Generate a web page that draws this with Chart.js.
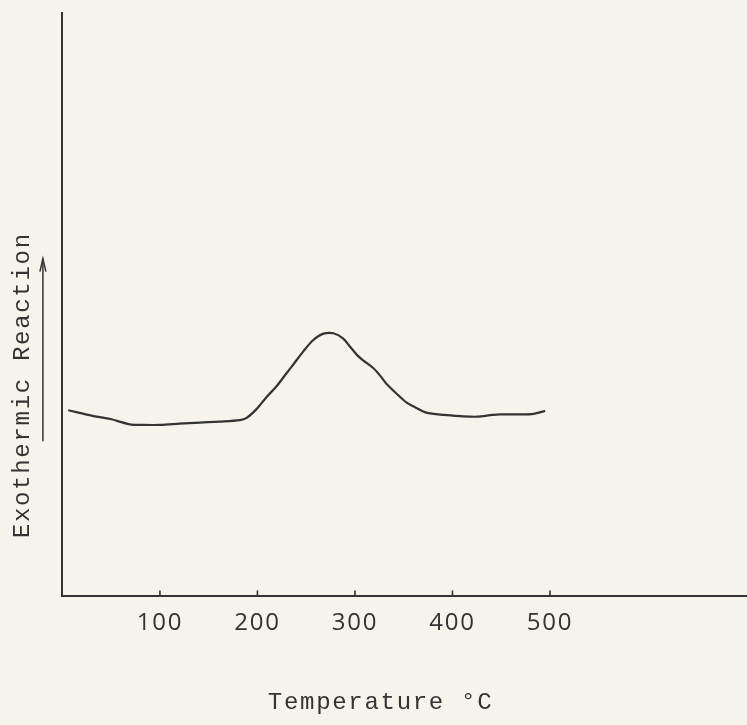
<!DOCTYPE html>
<html>
<head>
<meta charset="utf-8">
<script src="https://cdn.jsdelivr.net/npm/chart.js@4.4.1/dist/chart.umd.min.js"></script>
<style>
  html, body { margin: 0; padding: 0; background: #f5f3ec; }
  #wrap { width: 747px; height: 725px; position: relative; }
</style>
</head>
<body>
<div id="wrap"><canvas id="c"></canvas></div>
<script>
// Temperature (°C) along the DTA trace
const temperatures = [6, 32, 49, 69, 83, 100, 120, 141, 161, 182, 189, 199, 209, 220, 230, 237, 247, 257, 267, 278, 288, 295, 302, 308, 319, 326, 332, 343, 353, 363, 373, 391, 408, 425, 441, 449, 469, 483, 495];
// Relative signal (exothermic upward), arbitrary units
const signal = [31.9, 30.9, 30.4, 29.5, 29.4, 29.4, 29.6, 29.8, 29.95, 30.2, 30.6, 32.1, 34.1, 36.1, 38.3, 39.8, 42.0, 43.9, 45.0, 45.1, 44.2, 42.8, 41.4, 40.5, 39.1, 37.8, 36.5, 34.7, 33.2, 32.3, 31.5, 31.1, 30.9, 30.8, 31.1, 31.2, 31.2, 31.3, 31.8];
// Tick labels on the temperature axis
const xTickValues = [100, 200, 300, 400, 500];
const xTitle = 'Temperature \u00b0C   ';
const yTitle = 'Exothermic Reaction          ';

const INK = '#333333';
const spacing = (chart) => { try { chart.ctx.letterSpacing = '1.7px'; } catch (e) {} };

const decor = {
  id: 'decor',
  beforeUpdate: spacing,
  beforeLayout: spacing,
  beforeDraw(chart) { spacing(chart); },
  afterDraw(chart) {
    const ctx = chart.ctx;
    const xs = chart.scales.x;
    const area = chart.chartArea;
    ctx.save();
    ctx.strokeStyle = INK;
    ctx.lineWidth = 1.6;
    // inward tick marks on the temperature axis
    xs.ticks.forEach(t => {
      const px = xs.getPixelForValue(t.value);
      ctx.beginPath();
      ctx.moveTo(px, area.bottom);
      ctx.lineTo(px, area.bottom - 6);
      ctx.stroke();
    });
    // arrow next to the y-axis title
    const ax = area.left - 19.5;
    const h = area.bottom - area.top;
    const y0 = area.top + h * 0.734;
    const y1 = area.top + h * 0.421;
    ctx.lineWidth = 1.5;
    ctx.beginPath();
    ctx.moveTo(ax, y0);
    ctx.lineTo(ax, y1);
    ctx.stroke();
    ctx.beginPath();
    ctx.moveTo(ax - 3, y1 + 13);
    ctx.lineTo(ax, y1);
    ctx.lineTo(ax + 3, y1 + 13);
    ctx.stroke();
    ctx.restore();
  }
};

new Chart(document.getElementById('c'), {
  type: 'line',
  data: {
    datasets: [{
      data: temperatures.map((t, i) => ({ x: t, y: signal[i] })),
      borderColor: INK,
      borderWidth: 2.2,
      pointRadius: 0,
      tension: 0.3,
      fill: false
    }]
  },
  options: {
    responsive: true,
    maintainAspectRatio: false,
    animation: false,
    layout: { padding: { top: 13, right: 0, left: 0, bottom: 0 } },
    plugins: { legend: { display: false }, tooltip: { enabled: false } },
    scales: {
      x: {
        type: 'linear',
        min: 0,
        max: 702,
        afterBuildTicks: (s) => { s.ticks = xTickValues.map(v => ({ value: v })); },
        ticks: {
          color: INK,
          font: { family: '"Open Sans", sans-serif', size: 24 },
          padding: 12,
          callback: (v) => String(v)
        },
        grid: { drawOnChartArea: false, drawTicks: false },
        border: { display: true, color: INK, width: 2 },
        title: {
          display: true,
          text: xTitle,
          color: INK,
          font: { family: '"Liberation Mono", monospace', size: 24 },
          padding: { top: 39, bottom: 8 }
        }
      },
      y: {
        min: 0,
        max: 100,
        ticks: { display: false },
        grid: { drawOnChartArea: false, drawTicks: false },
        border: { display: true, color: INK, width: 2 },
        title: {
          display: true,
          text: yTitle,
          color: INK,
          font: { family: '"Liberation Mono", monospace', size: 24 },
          padding: { top: 8.6, bottom: 25 }
        }
      }
    }
  },
  plugins: [decor]
});
</script>
</body>
</html>
